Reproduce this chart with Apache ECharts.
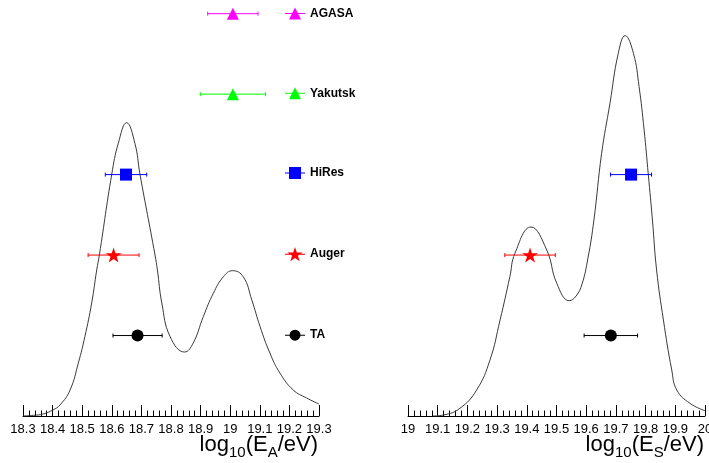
<!DOCTYPE html>
<html>
<head>
<meta charset="utf-8">
<script src="https://cdn.jsdelivr.net/npm/echarts@6/dist/echarts.min.js"></script>
<style>html,body{margin:0;padding:0;background:#fff}#c{width:709px;height:463px}</style>
</head>
<body>
<div id="c"></div>
<script>
// ---- data ----
const experiments = ['AGASA', 'Yakutsk', 'HiRes', 'Auger', 'TA'];
const rowLevel = [5, 4, 3, 2, 1];
const leftCentral = [19.009, 19.009, 18.648, 18.606, 18.687];
const leftErr = [0.085, 0.11, 0.07, 0.086, 0.083];
const rightCentral = [null, null, 19.751, 19.411, 19.683];
const rightErr = [null, null, 0.069, 0.085, 0.09];

const leftCurveE = [18.3, 18.335, 18.368, 18.401, 18.425, 18.459, 18.487, 18.509, 18.532, 18.549, 18.558, 18.6, 18.622, 18.65, 18.678, 18.695, 18.746, 18.754, 18.769, 18.797, 18.846, 18.875, 18.909, 18.943, 18.977, 19.008, 19.044, 19.073, 19.101, 19.134, 19.168, 19.213, 19.258, 19.3];
const leftCurveH = [0.0, 0.008, 0.025, 0.075, 0.137, 0.323, 0.659, 0.986, 1.404, 1.815, 2.001, 3.008, 3.389, 3.645, 3.389, 3.008, 2.001, 1.815, 1.404, 0.986, 0.795, 0.907, 1.234, 1.525, 1.731, 1.806, 1.731, 1.442, 1.11, 0.783, 0.534, 0.323, 0.224, 0.149];

const rightCurveE = [19.084, 19.119, 19.175, 19.231, 19.276, 19.31, 19.343, 19.36, 19.414, 19.467, 19.501, 19.543, 19.566, 19.586, 19.606, 19.626, 19.652, 19.68, 19.708, 19.731, 19.759, 19.778, 19.795, 19.809, 19.823, 19.837, 19.86, 19.888, 19.905, 19.949, 20.0];
const rightCurveH = [0.0, 0.012, 0.096, 0.323, 0.696, 1.193, 1.731, 2.022, 2.349, 2.063, 1.649, 1.433, 1.491, 1.641, 1.964, 2.436, 3.265, 3.886, 4.508, 4.727, 4.508, 4.093, 3.555, 3.004, 2.436, 1.815, 1.193, 0.572, 0.323, 0.158, 0.066];

const leftRange = [18.3, 19.3];
const rightRange = [19.0, 20.0];
const tickStep = 0.1;
const leftTitle = ['log', '10', '(E', 'A', '/eV)'];
const rightTitle = ['log', '10', '(E', 'S', '/eV)'];

// ---- styles ----
const colors = ['#ff00ff', '#00ff00', '#0000ff', '#ff0000', '#000000'];
const STAR = 'path://M10,0L11.8,5.52L17.61,5.53L12.91,8.95L14.7,14.47L10,11.06L5.3,14.47L7.09,8.95L2.39,5.53L8.2,5.52Z';
const symbols = ['triangle', 'triangle', 'rect', STAR, 'circle'];
const symbolSizes = [[12, 12], [12, 12], [12, 12], [16, 15], [12, 12]];
const legendIcons = [
  'path://M0,5.5L20,5.5L20,6.5L0,6.5Z M10,0L16,12L4,12Z',
  'path://M0,5.5L20,5.5L20,6.5L0,6.5Z M10,0L16,12L4,12Z',
  'path://M0,5.5L20,5.5L20,6.5L0,6.5Z M4,0L16,0L16,12L4,12Z',
  'path://M0,6.74L20,6.74L20,7.74L0,7.74Z M10,0L11.8,5.52L17.61,5.53L12.91,8.95L14.7,14.47L10,11.06L5.3,14.47L7.09,8.95L2.39,5.53L8.2,5.52Z',
  'path://M0,5.5L20,5.5L20,6.5L0,6.5Z M15.5,6A5.5,5.5,0,1,1,4.5,6A5.5,5.5,0,1,1,15.5,6Z'
];
const FONT = '"Liberation Sans", Arial, Helvetica, sans-serif';

function xAxisFor(idx, range) {
  return {
    type: 'value', gridIndex: idx, min: range[0], max: range[1], interval: tickStep,
    axisLine: { show: true, onZero: false, lineStyle: { color: '#000', width: 1 } },
    axisTick: { show: true, inside: true, length: 11, lineStyle: { color: '#000', width: 1 } },
    minorTick: { show: true, splitNumber: 5, length: 5.5, lineStyle: { color: '#000', width: 1 } },
    splitLine: { show: false },
    axisLabel: { margin: 7, color: '#000', fontSize: 13, fontFamily: FONT, hideOverlap: false,
      showMinLabel: true, showMaxLabel: true,
      formatter: v => String(parseFloat(v.toFixed(2))) }
  };
}
function yAxisFor(idx) {
  return { type: 'value', gridIndex: idx, min: 0, max: 5.17, show: false, splitLine: { show: false } };
}

function errRender(color) {
  return function (params, api) {
    const y = api.value(1);
    const a = api.coord([api.value(2), y]);
    const b = api.coord([api.value(3), y]);
    const st = { stroke: color, lineWidth: 1 };
    return { type: 'group', children: [
      { type: 'line', shape: { x1: a[0], y1: a[1], x2: b[0], y2: b[1] }, style: st },
      { type: 'line', shape: { x1: a[0], y1: a[1] - 2, x2: a[0], y2: a[1] + 2 }, style: st },
      { type: 'line', shape: { x1: b[0], y1: b[1] - 2, x2: b[0], y2: b[1] + 2 }, style: st }
    ] };
  };
}

const series = [];
series.push({ type: 'line', xAxisIndex: 0, yAxisIndex: 0, smooth: 0.45, showSymbol: false, silent: true,
  lineStyle: { color: '#3a3a3a', width: 1 }, data: leftCurveE.map((e, i) => [e, leftCurveH[i]]), z: 1 });
series.push({ type: 'line', xAxisIndex: 1, yAxisIndex: 1, smooth: 0.45, showSymbol: false, silent: true,
  lineStyle: { color: '#3a3a3a', width: 1 }, data: rightCurveE.map((e, i) => [e, rightCurveH[i]]), z: 1 });

[[leftCentral, leftErr, 0], [rightCentral, rightErr, 1]].forEach(([cen, err, g]) => {
  experiments.forEach((name, i) => {
    if (cen[i] == null) return;
    series.push({ type: 'custom', name, xAxisIndex: g, yAxisIndex: g, z: 2,
      renderItem: errRender(colors[i]),
      encode: { x: [0, 2, 3], y: 1 },
      data: [[cen[i], rowLevel[i], cen[i] - err[i], cen[i] + err[i]]] });
    series.push({ type: 'scatter', name, xAxisIndex: g, yAxisIndex: g, z: 3,
      symbol: symbols[i], symbolSize: symbolSizes[i],
      itemStyle: { color: colors[i], opacity: 1 },
      data: [[cen[i], rowLevel[i]]] });
  });
});

function titleText(parts) {
  return '{m|' + parts[0] + '}{s|' + parts[1] + '}{m|' + parts[2] + '}{s|' + parts[3] + '}{m|' + parts[4] + '}';
}
const titleRich = {
  m: { fontSize: 22, verticalAlign: 'top', fontFamily: FONT, fill: '#000', color: '#000' },
  s: { fontSize: 15, verticalAlign: 'top', padding: [11, 0, 0, 0], fontFamily: FONT, fill: '#000', color: '#000' }
};

const chart = echarts.init(document.getElementById('c'), null, { renderer: 'canvas' });
chart.setOption({
  animation: false,
  backgroundColor: '#fff',
  color: colors,
  grid: [
    { left: 23, width: 296, top: 0, height: 416, outerBoundsMode: 'none', containLabel: false },
    { left: 408, width: 297, top: 0, height: 416, outerBoundsMode: 'none', containLabel: false }
  ],
  xAxis: [xAxisFor(0, leftRange), xAxisFor(1, rightRange)],
  yAxis: [yAxisFor(0), yAxisFor(1)],
  legend: {
    orient: 'vertical', left: 285, top: 7.5, padding: 0, itemWidth: 20, itemHeight: 16, itemGap: 67.8,
    selectedMode: false,
    textStyle: { fontSize: 12, fontWeight: 'bold', color: '#000', fontFamily: FONT },
    data: experiments.map((n, i) => ({ name: n, icon: legendIcons[i], itemStyle: { color: colors[i] } }))
  },
  graphic: [
    { type: 'text', right: 709 - 318, top: 434, style: { text: titleText(leftTitle), rich: titleRich, fill: '#000' } },
    { type: 'text', right: 709 - 704, top: 434, style: { text: titleText(rightTitle), rich: titleRich, fill: '#000' } }
  ],
  series
});
</script>
</body>
</html>
